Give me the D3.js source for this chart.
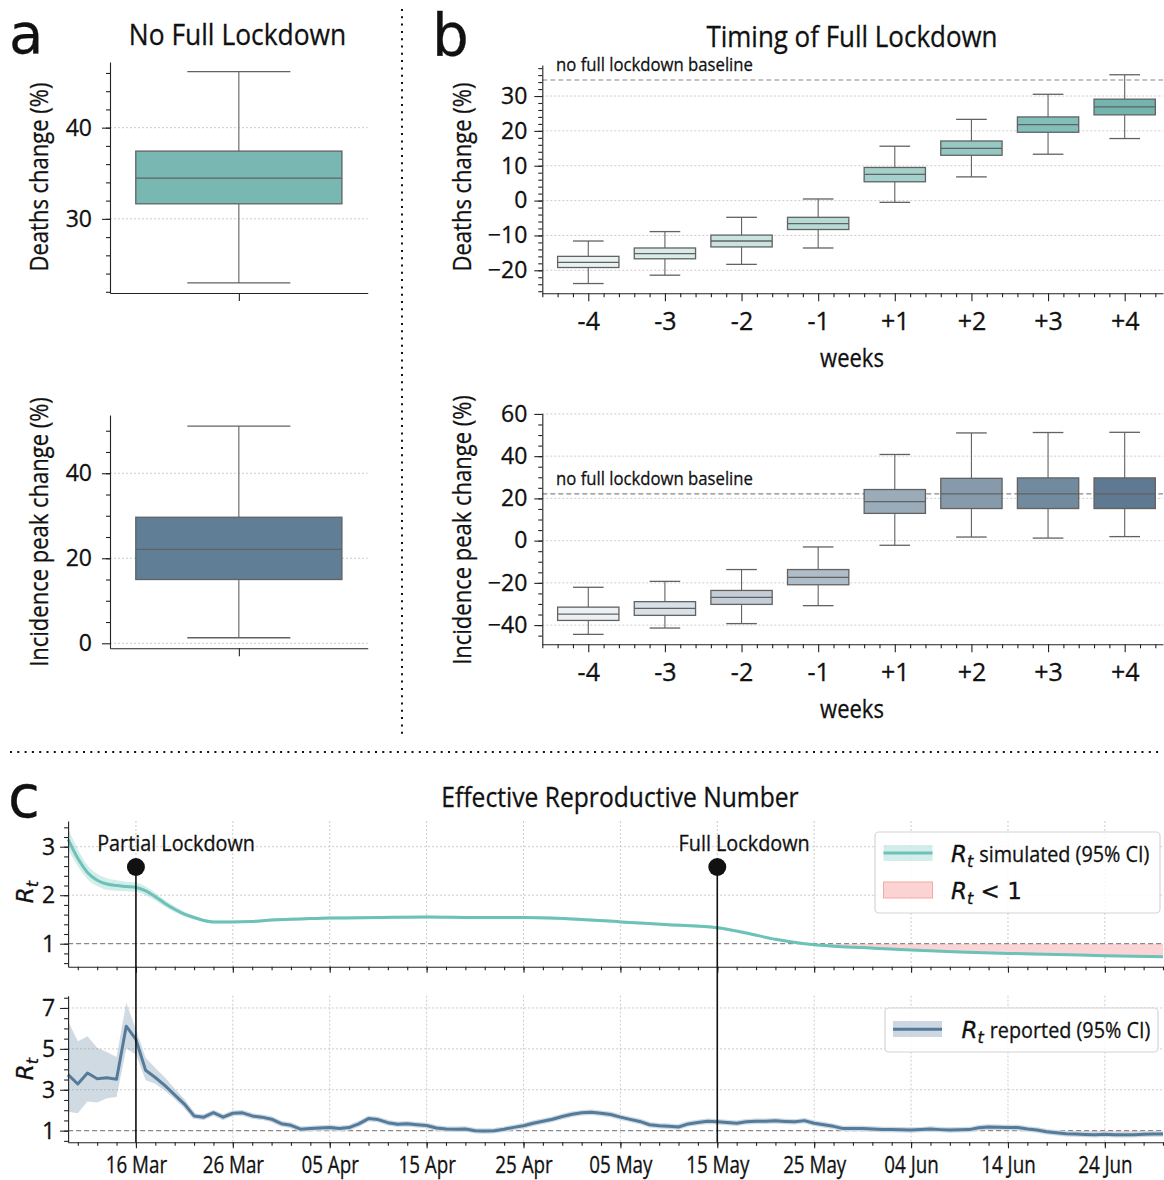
<!DOCTYPE html>
<html><head><meta charset="utf-8">
<script src="https://cdn.jsdelivr.net/npm/d3@7"></script>
<style>
body{margin:0;background:#fff}
svg text{stroke:#111;stroke-width:0.3px}
</style></head><body>
<svg id="chart" width="1164" height="1180"></svg>
<script>
// ---------------- DATA ----------------
// panel a: box stats [whisker low, q1, median, q3, whisker high]
const noLockDeaths = [22.97, 31.65, 34.46, 37.43, 46.15];
const noLockPeak   = [1.3, 15.0, 22.1, 29.65, 51.1];
// panel b
const weekLabels = ["-4","-3","-2","-1","+1","+2","+3","+4"];
const deathsLo  = [-23.8, -21.4, -18.3, -13.6, -0.5, 6.8, 13.3, 17.8];
const deathsQ1  = [-19.2, -16.7, -13.3, -8.3, 5.4, 13.0, 19.6, 24.6];
const deathsMed = [-17.7, -15.2, -11.6, -6.6, 7.5, 15.0, 21.8, 26.9];
const deathsQ3  = [-16.0, -13.6, -9.9, -4.8, 9.5, 17.1, 24.0, 29.1];
const deathsHi  = [-11.6, -8.9, -4.8, 0.46, 15.6, 23.3, 30.5, 36.1];
const peakLo  = [-44.4, -41.4, -39.3, -30.8, -2.2, 1.7, 1.2, 1.9];
const peakQ1  = [-37.8, -35.4, -30.2, -20.9, 12.9, 15.2, 15.2, 15.2];
const peakMed = [-34.8, -32.1, -26.9, -17.4, 18.5, 22.1, 22.1, 22.1];
const peakQ3  = [-31.5, -28.9, -23.6, -13.7, 24.2, 29.5, 29.7, 29.7];
const peakHi  = [-22.1, -19.3, -13.7, -3.0, 40.8, 51.0, 51.2, 51.3];
const deathsBaseline = 34.6;
const peakBaseline = 22.1;
// panel c: simulated Rt (day offset from 2020-03-09)
const simDays = [0,1,2,3,4,5,6,7,8,9,10,11,12,13,14,15,16,17,19,21,24,27,32,37,42,47,52,57,62,67,70,73,76,79,82,87,92,97,102,107,113];
const simVals = [3.15,2.76,2.47,2.31,2.23,2.20,2.18,2.16,2.09,1.97,1.83,1.71,1.61,1.54,1.48,1.45,1.45,1.45,1.46,1.49,1.51,1.53,1.54,1.55,1.54,1.54,1.51,1.45,1.39,1.33,1.22,1.09,1.00,0.95,0.92,0.87,0.83,0.80,0.78,0.75,0.73];
const simHi   = [3.38,2.95,2.62,2.44,2.35,2.31,2.28,2.26,2.18,2.05,1.90,1.77,1.66,1.58,1.51,1.48,1.48,1.48,1.49,1.52,1.54,1.56,1.57,1.58,1.57,1.57,1.54,1.48,1.42,1.36,1.25,1.11,1.02,0.97,0.94,0.89,0.85,0.82,0.80,0.77,0.75];
const simLo   = [2.95,2.60,2.33,2.19,2.11,2.09,2.08,2.07,2.00,1.89,1.76,1.65,1.56,1.50,1.45,1.42,1.42,1.42,1.43,1.46,1.48,1.50,1.51,1.52,1.51,1.51,1.48,1.42,1.36,1.30,1.19,1.07,0.98,0.93,0.90,0.85,0.81,0.78,0.76,0.73,0.71];
// reported Rt, daily from 2020-03-09
const rptVals = [3.74,3.28,3.82,3.54,3.59,3.51,6.11,5.46,3.95,3.60,3.20,2.75,2.30,1.72,1.66,1.88,1.66,1.85,1.87,1.72,
  1.66,1.56,1.34,1.26,1.07,1.10,1.13,1.15,1.10,1.15,1.33,1.59,1.54,1.39,1.31,1.34,1.29,1.25,1.13,1.08,
  1.07,1.08,1.00,0.98,1.00,1.07,1.16,1.24,1.36,1.46,1.56,1.69,1.80,1.87,1.90,1.85,1.79,1.66,1.55,1.45,
  1.29,1.24,1.21,1.18,1.33,1.40,1.46,1.43,1.40,1.36,1.44,1.46,1.46,1.48,1.45,1.43,1.49,1.36,1.29,1.21,
  1.10,1.11,1.10,1.08,1.06,1.05,1.04,1.03,1.05,1.08,1.05,1.03,1.04,1.05,1.14,1.18,1.17,1.15,1.15,1.08,
  1.03,0.95,0.90,0.85,0.83,0.81,0.80,0.82,0.80,0.80,0.80,0.82,0.84,0.84];
const rptHi = [6.36,5.37,5.62,5.05,4.85,4.60,7.26,5.95,4.56,4.07,3.60,3.05,2.55,1.85];
const rptLo = [1.93,1.85,2.43,2.38,2.59,2.64,5.00,4.72,3.46,3.29,2.95,2.55,2.10,1.62];
const dateTicks = ["2020-03-16","2020-03-26","2020-04-05","2020-04-15","2020-04-25","2020-05-05","2020-05-15","2020-05-25","2020-06-04","2020-06-14","2020-06-24"];
const events = [{label:"Partial Lockdown", date:"2020-03-16"},{label:"Full Lockdown", date:"2020-05-15"}];

// ---------------- STYLE ----------------
const FONT = '"Open Sans","Noto Sans",sans-serif';
const MATH = '"DejaVu Sans",sans-serif';
const COND = 0.88;
const deathsColors = ["#e7f2f1","#d8ebe9","#c8e3e0","#b6dad6","#a5d1cc","#94c8c2","#83bfb9","#73b5ae"];
const peakColors   = ["#edf0f3","#d9e0e6","#c5ced7","#afbdc9","#9aabba","#869aac","#718a9e","#5e7991"];
const teal = "#6cc2b9", steel = "#557b9b", pinkFill = "#fbd3d3";
const gridCol = "#c6c6c6", axisCol = "#222";

const svg = d3.select("#chart").attr("font-family", FONT);

function styleAxis(g, fs, cond) {
  g.attr("font-family", FONT).attr("font-size", fs || 23);
  g.selectAll("line,path").attr("stroke", axisCol).attr("stroke-width", 1.1);
  g.selectAll("text").attr("fill", "#111");
  if (cond) g.selectAll(".tick text").attr("transform", `scale(${cond},1)`);
}
function axisLeft(x0, y, majors, minors, pad, fs, majLen=8, minLen=4) {
  const gm = svg.append("g").attr("transform", `translate(${x0},0)`)
    .call(d3.axisLeft(y).tickValues(minors).tickSize(minLen).tickFormat("").tickSizeOuter(0));
  gm.select(".domain").remove(); styleAxis(gm);
  const g = svg.append("g").attr("transform", `translate(${x0},0)`)
    .call(d3.axisLeft(y).tickValues(majors).tickSize(majLen).tickPadding(pad).tickSizeOuter(0).tickFormat(d3.format("d")));
  styleAxis(g, fs);
  return g;
}
function axisBottom(y0, x, majors, minors, pad, fs, fmt, majLen=8, minLen=4, cond=0) {
  const gm = svg.append("g").attr("transform", `translate(0,${y0})`)
    .call(d3.axisBottom(x).tickValues(minors).tickSize(minLen).tickFormat("").tickSizeOuter(0));
  gm.select(".domain").remove(); styleAxis(gm);
  const g = svg.append("g").attr("transform", `translate(0,${y0})`)
    .call(d3.axisBottom(x).tickValues(majors).tickSize(majLen).tickPadding(pad).tickSizeOuter(0).tickFormat(fmt));
  styleAxis(g, fs, cond);
  return g;
}
function hGrid(y, vals, x0, x1) {
  svg.append("g").selectAll("line").data(vals).join("line")
    .attr("x1", x0).attr("x2", x1).attr("y1", d => y(d)).attr("y2", d => y(d))
    .attr("stroke", gridCol).attr("stroke-width", 0.9).attr("stroke-dasharray", "2,2");
}
function dashLine(y, v, x0, x1) {
  svg.append("line").attr("x1", x0).attr("x2", x1).attr("y1", y(v)).attr("y2", y(v))
    .attr("stroke", "#888").attr("stroke-width", 1.2).attr("stroke-dasharray", "5,3");
}
function drawBox(x, y, i, s, fill) {
  const g = svg.append("g");
  const c = x(i), col = "#626262";
  g.append("line").attr("x1", c).attr("x2", c).attr("y1", y(s[0])).attr("y2", y(s[1])).attr("stroke", col).attr("stroke-width", 1.1);
  g.append("line").attr("x1", c).attr("x2", c).attr("y1", y(s[3])).attr("y2", y(s[4])).attr("stroke", col).attr("stroke-width", 1.1);
  [s[0], s[4]].forEach(v => g.append("line").attr("x1", x(i-0.2)).attr("x2", x(i+0.2)).attr("y1", y(v)).attr("y2", y(v)).attr("stroke", col).attr("stroke-width", 1.3));
  g.append("rect").attr("x", x(i-0.4)).attr("width", x(i+0.4)-x(i-0.4)).attr("y", y(s[3])).attr("height", y(s[1])-y(s[3]))
    .attr("fill", fill).attr("stroke", col).attr("stroke-width", 1.3);
  g.append("line").attr("x1", x(i-0.4)).attr("x2", x(i+0.4)).attr("y1", y(s[2])).attr("y2", y(s[2])).attr("stroke", col).attr("stroke-width", 1.3);
}
// condensed text: placed with a transform that narrows the glyphs
function text(x, y, str, fs, anchor="start", cond=COND, rot=0) {
  const g = svg.append("g").attr("transform", `translate(${x},${y})${rot ? ` rotate(${rot})` : ""} scale(${cond},1)`);
  return g.append("text").attr("font-size", fs).attr("text-anchor", anchor).attr("fill", "#111").text(str);
}
function panelLetter(x, y, str, fs) {
  svg.append("text").attr("x", x).attr("y", y).attr("font-family", MATH).attr("font-size", fs).attr("fill", "#111").text(str);
}
const range = (a, b, s) => d3.range(Math.round(a/s), Math.round(b/s)+1).map(k => +(k*s).toFixed(4));

// ---------------- PANEL A ----------------
const xa = d3.scaleLinear().domain([-0.5, 0.5]).range([110, 367.7]);
const ya1 = d3.scaleLinear().domain([21.87, 47.2]).range([293, 62]);
hGrid(ya1, [30, 40], 110, 367.7);
drawBox(xa, ya1, 0, noLockDeaths, "#79b8b2");
axisLeft(110, ya1, [30, 40], range(22, 46, 2), 10, 23);
axisBottom(293, xa, [0], [], 8, 23, () => "");
const ya2 = d3.scaleLinear().domain([-1.18, 53.7]).range([648.3, 415]);
hGrid(ya2, [0, 20, 40], 110, 367.7);
drawBox(xa, ya2, 0, noLockPeak, "#607f96");
axisLeft(110, ya2, [0, 20, 40], range(5, 50, 5), 10, 23);
axisBottom(648.3, xa, [0], [], 8, 23, () => "");
text(237.5, 45, "No Full Lockdown", 30, "middle");
text(48, 177, "Deaths change (%)", 25, "middle", COND, -90);
text(47.5, 532, "Incidence peak change (%)", 25, "middle", COND, -90);
panelLetter(9, 53, "a", 56);

// ---------------- PANEL B ----------------
const xb = d3.scaleLinear().domain([-0.6, 7.5]).range([542.3, 1163]);
const xbMinor = d3.range(-3, 38).map(k => +(k*0.2).toFixed(2)).filter(v => Math.abs(v - Math.round(v)) > 0.01);
const yb1 = d3.scaleLinear().domain([-26.6, 38.9]).range([293.3, 65]);
hGrid(yb1, [-20,-10,0,10,20,30], 542.3, 1163);
dashLine(yb1, deathsBaseline, 542.3, 1163);
weekLabels.forEach((w, i) => drawBox(xb, yb1, i, [deathsLo[i], deathsQ1[i], deathsMed[i], deathsQ3[i], deathsHi[i]], deathsColors[i]));
axisLeft(542.3, yb1, [-20,-10,0,10,20,30], range(-26, 38, 2), 7, 23);
axisBottom(293.3, xb, d3.range(8), xbMinor, 11, 25, i => weekLabels[i]);
text(556, 71, "no full lockdown baseline", 19);
text(852, 46.5, "Timing of Full Lockdown", 29.5, "middle");
text(852, 367, "weeks", 25, "middle");
text(471, 177, "Deaths change (%)", 25, "middle", COND, -90);
panelLetter(432, 56, "b", 58);

const yb2 = d3.scaleLinear().domain([-49.1, 60.3]).range([644.3, 413.3]);
hGrid(yb2, [-40,-20,0,20,40,60], 542.3, 1163);
dashLine(yb2, peakBaseline, 542.3, 1163);
weekLabels.forEach((w, i) => drawBox(xb, yb2, i, [peakLo[i], peakQ1[i], peakMed[i], peakQ3[i], peakHi[i]], peakColors[i]));
axisLeft(542.3, yb2, [-40,-20,0,20,40,60], range(-45, 55, 5), 7, 23);
axisBottom(644.3, xb, d3.range(8), xbMinor, 11, 25, i => weekLabels[i]);
text(556, 484.5, "no full lockdown baseline", 19);
text(852, 718, "weeks", 25, "middle");
text(471, 530, "Incidence peak change (%)", 25, "middle", COND, -90);

// separators
svg.append("line").attr("x1", 402).attr("x2", 402).attr("y1", 9).attr("y2", 736)
  .attr("stroke", "#111").attr("stroke-width", 2).attr("stroke-dasharray", "2,5.3");
svg.append("line").attr("x1", 10).attr("x2", 1160).attr("y1", 752).attr("y2", 752)
  .attr("stroke", "#111").attr("stroke-width", 2).attr("stroke-dasharray", "2,5.3");

// ---------------- PANEL C ----------------
const t0 = new Date(Date.UTC(2020, 2, 9));
const dayDate = d => d3.utcDay.offset(t0, d);
const parse = d3.utcParse("%Y-%m-%d");
const xc = d3.scaleUtc().domain([t0, dayDate(113)]).range([68.1, 1163]);
const majorDates = dateTicks.map(parse);
const minorDates = d3.range(1, 114, 2).map(dayDate);
const yc1 = d3.scaleLinear().domain([0.526, 3.53]).range([966.7, 821]);
const yc2 = d3.scaleLinear().domain([0.43, 7.6]).range([1142.3, 995.7]);

function vGrid(y0, y1) {
  svg.append("g").selectAll("line").data(majorDates).join("line")
    .attr("x1", d => xc(d)).attr("x2", d => xc(d)).attr("y1", y0).attr("y2", y1)
    .attr("stroke", gridCol).attr("stroke-width", 0.9).attr("stroke-dasharray", "2,2");
}
vGrid(821, 966.7); vGrid(995.7, 1142.3);
hGrid(yc1, [2, 3], 68.1, 1163);
hGrid(yc2, [3, 5, 7], 68.1, 1163);

const defs = svg.append("defs");
defs.append("clipPath").attr("id", "below1").append("rect").attr("x", 68.1).attr("y", yc1(1)).attr("width", 1100).attr("height", 966.7 - yc1(1));
defs.append("clipPath").attr("id", "below1b").append("rect").attr("x", 68.1).attr("y", yc2(1)).attr("width", 1100).attr("height", 1142.3 - yc2(1));

const simData = simDays.map((d, i) => ({t: dayDate(d), v: simVals[i], lo: simLo[i], hi: simHi[i]}));
svg.append("path").datum(simData).attr("clip-path", "url(#below1)")
  .attr("d", d3.area().x(d => xc(d.t)).y0(yc1(1)).y1(d => yc1(d.v)).curve(d3.curveMonotoneX))
  .attr("fill", pinkFill).attr("opacity", 0.95);
svg.append("path").datum(simData)
  .attr("d", d3.area().x(d => xc(d.t)).y0(d => yc1(d.lo)).y1(d => yc1(d.hi)).curve(d3.curveMonotoneX))
  .attr("fill", teal).attr("opacity", 0.3);
dashLine(yc1, 1, 68.1, 1163);
svg.append("path").datum(simData)
  .attr("d", d3.line().x(d => xc(d.t)).y(d => yc1(d.v)).curve(d3.curveMonotoneX))
  .attr("fill", "none").attr("stroke", teal).attr("stroke-width", 3);

const rptData = rptVals.map((v, i) => ({t: dayDate(i), v}));
const rptBand = rptHi.map((h, i) => ({t: dayDate(i), lo: rptLo[i], hi: h}));
svg.append("path").datum(rptData).attr("clip-path", "url(#below1b)")
  .attr("d", d3.area().x(d => xc(d.t)).y0(yc2(1)).y1(d => yc2(d.v)))
  .attr("fill", pinkFill).attr("opacity", 0.95);
svg.append("path").datum(rptBand)
  .attr("d", d3.area().x(d => xc(d.t)).y0(d => yc2(d.lo)).y1(d => yc2(d.hi)))
  .attr("fill", steel).attr("opacity", 0.28);
dashLine(yc2, 1, 68.1, 1163);
svg.append("path").datum(rptData)
  .attr("d", d3.line().x(d => xc(d.t)).y(d => yc2(d.v)))
  .attr("fill", "none").attr("stroke", "#cfdae3").attr("stroke-width", 5.5).attr("stroke-linejoin", "round");
svg.append("path").datum(rptData)
  .attr("d", d3.line().x(d => xc(d.t)).y(d => yc2(d.v)))
  .attr("fill", "none").attr("stroke", steel).attr("stroke-width", 3).attr("stroke-linejoin", "round");

axisLeft(68.1, yc1, [1, 2, 3], range(0.6, 3.4, 0.2), 5, 23);
axisBottom(966.7, xc, majorDates, minorDates, 6, 23, () => "", 6, 3.5);
axisLeft(68.1, yc2, [1, 3, 5, 7], range(0.5, 7.5, 0.5), 5, 23);
axisBottom(1142.3, xc, majorDates, minorDates, 8, 23.5, d3.utcFormat("%d %b"), 6, 3.5, 0.8);

events.forEach(e => {
  const x = xc(parse(e.date));
  svg.append("line").attr("x1", x).attr("x2", x).attr("y1", 867).attr("y2", 1142.3).attr("stroke", "#111").attr("stroke-width", 1.6);
  svg.append("circle").attr("cx", x).attr("cy", 867).attr("r", 9).attr("fill", "#111");
  text(xc(d3.utcDay.offset(parse(e.date), -4)), 851, e.label, 22.5);
});

function rtLabel(x, y) {
  const t = svg.append("text").attr("transform", `translate(${x},${y}) rotate(-90)`).attr("text-anchor", "middle")
    .attr("font-family", MATH).attr("font-size", 23).attr("fill", "#111");
  t.append("tspan").attr("font-style", "italic").text("R");
  t.append("tspan").attr("font-style", "italic").attr("font-size", 16).attr("dy", 5).text("t");
}
rtLabel(33, 892); rtLabel(33, 1069);

text(620, 806.7, "Effective Reproductive Number", 28, "middle");
panelLetter(8, 817, "c", 58);

// legends
function rtText(x, y, rest, condRest) {
  const t = svg.append("text").attr("x", x).attr("y", y).attr("font-size", 23).attr("font-family", MATH).attr("fill", "#111");
  t.append("tspan").attr("font-style", "italic").text("R");
  t.append("tspan").attr("font-style", "italic").attr("font-size", 16).attr("dy", 5).text("t");
  const w = t.node().getComputedTextLength();
  if (condRest) {
    text(x + w + 6, y, rest, 22.5);
  } else {
    t.append("tspan").attr("dy", -5).text(rest);
  }
}
svg.append("rect").attr("x", 875).attr("y", 832).attr("width", 285).attr("height", 81).attr("rx", 4)
  .attr("fill", "#fff").attr("fill-opacity", 0.85).attr("stroke", "#d4d4d4").attr("stroke-width", 1.2);
svg.append("rect").attr("x", 883.5).attr("y", 845).attr("width", 49).attr("height", 16).attr("fill", teal).attr("opacity", 0.3);
svg.append("line").attr("x1", 883.5).attr("x2", 932.5).attr("y1", 853).attr("y2", 853).attr("stroke", teal).attr("stroke-width", 3);
rtText(951, 861.5, "simulated (95% CI)", true);
svg.append("rect").attr("x", 883.5).attr("y", 882).attr("width", 49).attr("height", 16).attr("fill", pinkFill).attr("stroke", "#f4a9a9").attr("stroke-width", 1);
rtText(951, 898.5, " < 1", false);

svg.append("rect").attr("x", 885).attr("y", 1008).attr("width", 273).attr("height", 44).attr("rx", 4)
  .attr("fill", "#fff").attr("fill-opacity", 0.85).attr("stroke", "#d4d4d4").attr("stroke-width", 1.2);
svg.append("rect").attr("x", 893).attr("y", 1021).attr("width", 49).attr("height", 16).attr("fill", steel).attr("opacity", 0.3);
svg.append("line").attr("x1", 893).attr("x2", 942).attr("y1", 1029.3).attr("y2", 1029.3).attr("stroke", steel).attr("stroke-width", 3);
rtText(961.5, 1037.5, "reported (95% CI)", true);
</script>
</body></html>
